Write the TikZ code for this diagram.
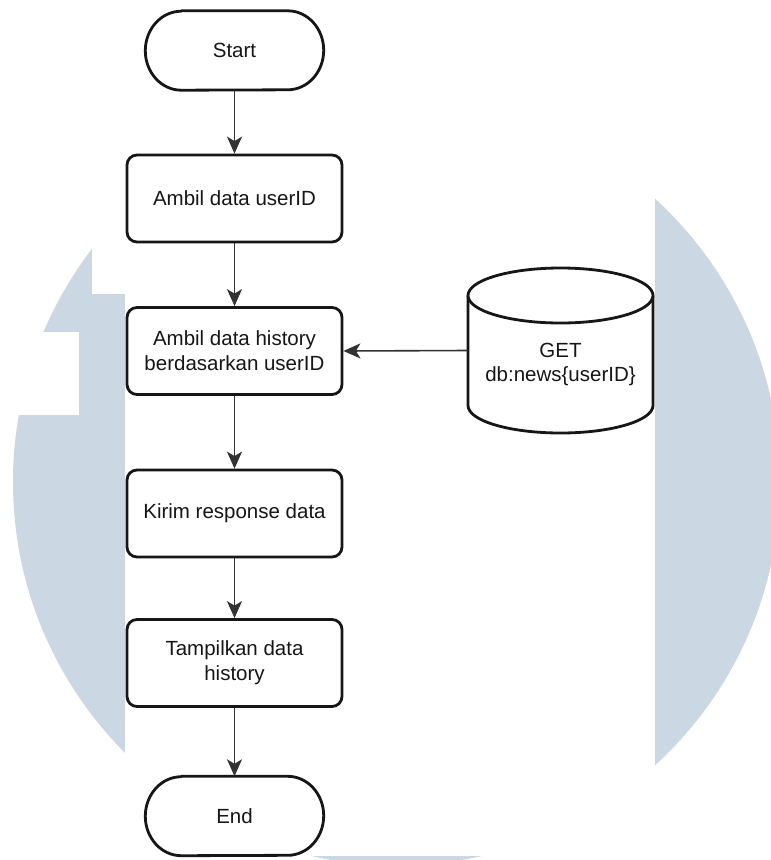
\documentclass[tikz,border=0pt]{standalone}
\usepackage{fontspec}
\setmainfont{Liberation Sans}
\usetikzlibrary{arrows.meta}

\definecolor{logotint}{RGB}{203,216,227}
\definecolor{ink}{RGB}{22,22,22}
\definecolor{wire}{RGB}{50,50,50}

\tikzset{
  outline/.style={draw=ink, line width=2.8pt, line join=round},
  procbox/.style={outline, fill=white, rounded corners=10pt, minimum width=215pt,
    minimum height=87pt, inner sep=2pt, align=center, text=ink,
    font=\fontsize{20.5}{25}\selectfont},
  termbox/.style={minimum width=178pt, minimum height=79pt, inner sep=0pt,
    text=ink, font=\fontsize{20.5}{25}\selectfont},
  flow/.style={draw=wire, line width=1.6pt,
    -{Stealth[length=17pt, width=15pt, inset=4.5pt]}},
}

% outline of a terminal node: flat top and bottom, elliptic ends
\newcommand\terminalshape[1]{%
  \draw[outline] ([xshift=36pt]#1.north west) -- ([xshift=-36pt]#1.north east)
    arc[start angle=90, end angle=-90, x radius=36pt, y radius=39.5pt]
    -- ([xshift=36pt]#1.south west)
    arc[start angle=270, end angle=90, x radius=36pt, y radius=39.5pt] -- cycle;}

\begin{document}
\begin{tikzpicture}[x=1pt, y=-1pt]
  % page
  \useasboundingbox (0,0) rectangle (771,860);
  \fill[white] (0,0) rectangle (771,860);

  % watermark disc with its white cut-outs
  \fill[logotint] (396.5,482) circle[radius=383.5pt];
  \fill[white] (125,0) rectangle (655,856);
  \fill[white] (92,0) rectangle (125,294);
  \fill[white] (0,332) rectangle (79,415);

  % terminals
  \node[termbox] (start) at (234.5,50.5) {};
  \terminalshape{start}
  \node[text=ink, font=\fontsize{20.5}{25}\selectfont] (starttxt) at (start) {Start};

  \node[termbox] (end) at (234.5,816) {};
  \terminalshape{end}
  \node[text=ink, font=\fontsize{20.5}{25}\selectfont] (endtxt) at (end) {End};

  % process steps
  \node[procbox] (uid)  at (234.5,198.5) {Ambil data userID};
  \node[procbox] (hist) at (234.5,351)   {Ambil data history\\berdasarkan userID};
  \node[procbox] (resp) at (234.5,513.5) {Kirim response data};
  \node[procbox] (show) at (234.5,663)   {Tampilkan data\\history};

  % database cylinder
  \node[minimum width=185pt, minimum height=165pt, inner sep=0pt] (db) at (560.5,350.5) {};
  \draw[outline, fill=white] (468,295.5) -- (468,405.5)
    arc[start angle=180, end angle=360, x radius=92.5pt, y radius=27.5pt]
    -- (653,295.5);
  \draw[outline, fill=white] (560.5,295.5) ellipse[x radius=92.5pt, y radius=27.5pt];
  \node[align=center, text=ink, font=\fontsize{20.5}{24}\selectfont] (dbtxt) at (560.5,364)
    {GET\\db:news\{userID\}};

  % connectors
  \draw[flow] (start.south) -- (uid.north);
  \draw[flow] (uid.south) -- (hist.north);
  \draw[flow] (db.west) -- (hist.east);
  \draw[flow] (hist.south) -- (resp.north);
  \draw[flow] (resp.south) -- (show.north);
  \draw[flow] (show.south) -- (end.north);
\end{tikzpicture}
\end{document}
